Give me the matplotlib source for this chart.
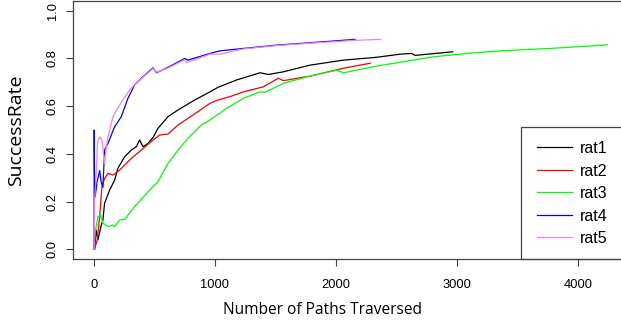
import matplotlib
matplotlib.use("Agg")
import matplotlib.pyplot as plt
from matplotlib.patches import Rectangle

# paths traversed vs success rate
rat1_x = [5, 19, 33, 60, 74, 88, 130, 171, 198, 254, 309, 350, 378, 405, 447, 490, 529, 612,
          695, 833, 959, 1025, 1180, 1373, 1442, 1566, 1786, 2062, 2338, 2531, 2627, 2655, 2966]
rat1_y = [0.0, 0.08, 0.04, 0.10, 0.123, 0.193, 0.249, 0.29, 0.34, 0.388, 0.416, 0.43, 0.458, 0.43,
          0.444, 0.47, 0.507, 0.556, 0.584, 0.626, 0.66, 0.679, 0.71, 0.74, 0.733, 0.744, 0.772,
          0.793, 0.805, 0.818, 0.821, 0.813, 0.828]

rat2_x = [5, 27, 47, 66, 88, 116, 157, 212, 309, 391, 488, 543, 612, 695, 777, 860, 959, 1025,
          1125, 1235, 1400, 1524, 1566, 1786, 2062, 2283]
rat2_y = [0.0, 0.04, 0.137, 0.262, 0.297, 0.318, 0.311, 0.332, 0.381, 0.416, 0.458, 0.479, 0.483,
          0.521, 0.549, 0.577, 0.612, 0.626, 0.64, 0.66, 0.681, 0.717, 0.707, 0.726, 0.759, 0.78]

rat3_x = [2, 10, 33, 55, 74, 116, 157, 171, 212, 254, 336, 447, 529, 612, 695, 777, 888, 959,
          1097, 1235, 1373, 1414, 1566, 1786, 2007, 2062, 2338, 2531, 2806, 3082, 3358, 3771, 4245]
rat3_y = [0.0, 0.07, 0.137, 0.144, 0.109, 0.095, 0.102, 0.095, 0.123, 0.126, 0.179, 0.241, 0.283,
          0.36, 0.416, 0.465, 0.521, 0.542, 0.591, 0.633, 0.66, 0.658, 0.696, 0.726, 0.751, 0.74,
          0.768, 0.784, 0.807, 0.821, 0.832, 0.842, 0.857]

rat4_x = [1, 2, 4, 10, 25, 47, 60, 74, 88, 116, 171, 226, 281, 336, 419, 488, 516, 612, 750, 777,
          959, 1042, 1235, 1511, 1786, 2159]
rat4_y = [0.0, 0.5, 0.33, 0.22, 0.28, 0.33, 0.28, 0.26, 0.416, 0.444, 0.514, 0.556, 0.633, 0.689,
          0.73, 0.761, 0.74, 0.763, 0.80, 0.793, 0.821, 0.832, 0.842, 0.856, 0.866, 0.88]

rat5_x = [1, 5, 19, 30, 47, 66, 88, 100, 116, 157, 212, 295, 336, 419, 488, 516, 612, 750, 764,
          959, 1042, 1235, 1511, 1786, 2159, 2366]
rat5_y = [0.0, 0.2, 0.32, 0.45, 0.472, 0.458, 0.36, 0.42, 0.47, 0.556, 0.605, 0.668, 0.689, 0.728,
          0.758, 0.742, 0.76, 0.795, 0.782, 0.818, 0.818, 0.84, 0.854, 0.864, 0.876, 0.88]

series = [("rat1", rat1_x, rat1_y, "black"),
          ("rat2", rat2_x, rat2_y, "#ff0000"),
          ("rat3", rat3_x, rat3_y, "#00ff00"),
          ("rat4", rat4_x, rat4_y, "#0000ff"),
          ("rat5", rat5_x, rat5_y, "#ee82ee")]

plt.rcParams['font.family'] = ['Liberation Sans', 'DejaVu Sans']

fig = plt.figure(figsize=(6.21, 3.24), dpi=100)
ax = fig.add_axes([0.1182, 0.2012, 0.8947, 0.795])

for name, xs, ys, col in series:
    ax.plot(xs, ys, color=col, lw=0.9, label=name)

ax.set_xlim(-170, 4424)
ax.set_ylim(-0.04, 1.04)
ax.set_xticks([0, 1000, 2000, 3000, 4000])
ax.set_yticks([0.0, 0.2, 0.4, 0.6, 0.8, 1.0])
ax.set_yticklabels(["0.0", "0.2", "0.4", "0.6", "0.8", "1.0"], rotation=90, va="center")
ax.tick_params(direction="out", length=5, width=0.8, color="#444444", labelsize=9.3)
ax.tick_params(axis="x", pad=9.5)
ax.tick_params(axis="y", pad=5.5)
for s in ax.spines.values():
    s.set_color("#444444")
    s.set_linewidth(0.9)

ax.set_xlabel("Number of Paths Traversed", fontsize=11.2, family=["Open Sans", "DejaVu Sans"])
ax.xaxis.set_label_coords(0.449, -0.168)
ax.set_ylabel("SuccessRate", fontsize=14, family=["Open Sans", "DejaVu Sans"])
ax.yaxis.set_label_coords(-0.087, 0.5)

ax.add_patch(Rectangle((0.805, 0.0), 0.3, 0.513, transform=ax.transAxes, fill=False,
                       edgecolor="#444444", lw=0.9, clip_on=False))
ax.legend(loc="upper left", bbox_to_anchor=(0.81, 0.51), frameon=False, fontsize=11.5,
          handlelength=2.2, handletextpad=0.5, labelspacing=0.47, borderpad=0.85,
          borderaxespad=0)

fig.savefig("out.png", dpi=100)
